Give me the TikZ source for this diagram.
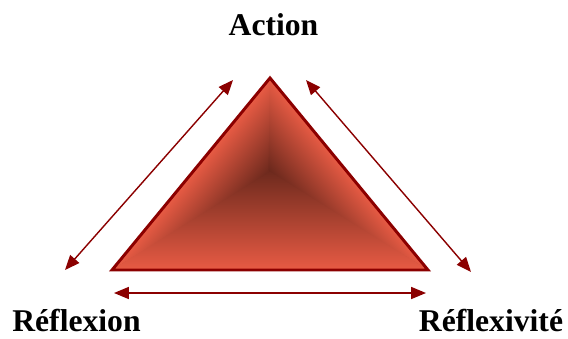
\documentclass[tikz,border=0pt]{standalone}
\usepackage{fontspec}
\setmainfont{Liberation Serif}
\usetikzlibrary{arrows.meta, calc}
\definecolor{edgered}{HTML}{8B0000}
\definecolor{facelight}{HTML}{E85B44}
\definecolor{facemid}{HTML}{C04632}
\definecolor{facedark}{HTML}{6A281C}
\tikzset{
  lbl/.style={font=\fontsize{22.5}{27}\selectfont\bfseries, inner sep=0pt, text depth=0pt, anchor=base},
  link/.style={draw=edgered, line width=1pt, {Triangle[length=10.5pt,width=8.5pt]}-{Triangle[length=10.5pt,width=8.5pt]}},
  face/.style={top color=facelight, middle color=facemid, bottom color=facedark, draw=none}
}

\begin{document}
\begin{tikzpicture}[x=0.025cm, y=0.025cm]
\useasboundingbox (0,0) rectangle (568,338);
% corners of the triangle and its dark centre
\coordinate (top) at (270,260);
\coordinate (left) at (112,68);
\coordinate (right) at (428,68);
\coordinate (mid) at (270,170);

% shaded faces
\fill[facemid!70!facedark] (top) -- (left) -- (right) -- cycle;
\shade[top color=facedark, middle color=facemid, bottom color=facelight] (mid) -- (left) -- (right) -- cycle;
\begin{scope}[transform canvas={shift={(112*0.025cm,68*0.025cm)}, rotate=50.55}]
  \shade[face] (0,0) -- (248.65,0) -- (178.4,-59.7) -- cycle;
\end{scope}
\begin{scope}[transform canvas={shift={(428*0.025cm,68*0.025cm)}, rotate=-50.55}]
  \shade[face] (0,0) -- (-248.65,0) -- (-178.4,-59.7) -- cycle;
\end{scope}
\draw[edgered, line width=2.1pt, line join=miter] (top) -- (left) -- (right) -- cycle;

% arrows
\coordinate (la) at (65,68);
\coordinate (lb) at (233,258);
\coordinate (ra) at (306,258);
\coordinate (rb) at (471,66);
\coordinate (ba) at (114,45);
\coordinate (bb) at (426,45);
\draw[link] (la) -- (lb);
\draw[link] (ra) -- (rb);
\draw[link] (ba) -- (bb);

% labels
\node[lbl] (action) at (273.5,303) {Action};
\node[lbl] (reflexion) at (76.5,7) {Réflexion};
\node[lbl] (reflexivite) at (491,7) {Réflexivité};
\end{tikzpicture}
\end{document}
